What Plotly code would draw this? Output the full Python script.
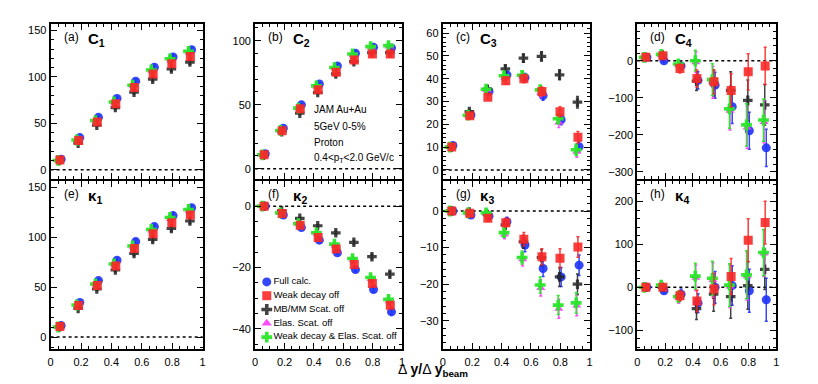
import plotly.graph_objects as go

# delta-y / delta-y_beam bin centres
X_BINS = [0.061, 0.184, 0.307, 0.429, 0.552, 0.675, 0.798, 0.920]

# (a) C1  /  (e) kappa1
C1_FULL = [11.4, 34.6, 56.4, 76.8, 95.4, 110.4, 121.4, 129.3]
C1_WEAK = [10.4, 31.4, 51.4, 71.0, 88.6, 103.2, 114.3, 122.0]
C1_MBMM = [10.0, 28.5, 48.0, 67.0, 83.5, 97.5, 108.5, 116.0]
C1_ELAS = [10.2, 32.0, 52.5, 72.5, 90.5, 106.5, 118.0, 126.0]
C1_WDEL = [10.0, 32.0, 53.0, 73.0, 91.0, 107.5, 119.5, 127.5]
C1_ERR = [0.5, 1.0, 1.5, 1.8, 2.0, 2.2, 2.5, 2.5]

K1_FULL, K1_WEAK, K1_MBMM, K1_ELAS, K1_WDEL = C1_FULL, C1_WEAK, C1_MBMM, C1_ELAS, C1_WDEL
K1_ERR = C1_ERR

# (b) C2
C2_FULL = [11.7, 31.7, 49.9, 66.2, 80.3, 90.1, 94.8, 94.3]
C2_WEAK = [10.9, 29.6, 46.8, 61.6, 75.3, 84.9, 89.6, 89.6]
C2_MBMM = [10.5, 29.0, 43.4, 59.5, 74.0, 83.6, 90.6, 90.6]
C2_ELAS = [10.8, 29.8, 47.0, 64.0, 78.5, 89.0, 94.5, 95.5]
C2_WDEL = [10.9, 29.9, 47.3, 64.7, 79.0, 89.6, 95.3, 96.1]
C2_ERR = [0.4, 0.8, 1.0, 1.2, 1.4, 1.6, 1.8, 2.0]

# (c) C3
C3_FULL = [10.7, 24.1, 34.4, 41.7, 40.5, 32.6, 22.0, 10.2]
C3_WEAK = [10.0, 23.7, 31.9, 39.1, 40.0, 34.4, 25.5, 14.3]
C3_MBMM = [10.0, 25.6, 35.4, 44.3, 49.0, 49.8, 41.7, 29.7]
C3_ELAS = [10.0, 23.8, 35.0, 40.5, 41.0, 34.0, 20.8, 8.0]
C3_WDEL = [10.0, 24.0, 35.4, 41.3, 41.5, 35.1, 22.4, 8.8]
C3_ERR = [0.5, 0.8, 1.0, 1.5, 1.8, 2.0, 2.2, 2.5]

# (d) C4
C4_FULL = [9, 0, -14, -53, -66, -124, -189, -235]
C4_WEAK = [9, 13.5, -21, -48, -57, -80, -30, -14]
C4_MBMM = [9, 15, -12, -55, -60, -80, -107, -119]
C4_ELAS = [9, 15, -12, -4, -58, -135, -180, -165]
C4_WDEL = [9, 17, -9, 0, -51, -130, -173, -160]
C4_FULL_ERR = [3, 5, 10, 23, 35, 45, 50, 50]
C4_WEAK_ERR = [3, 6, 12, 23, 32, 45, 49, 50]
C4_MBMM_ERR = [3, 6, 12, 25, 35, 50, 55, 55]
C4_ELAS_ERR = [3, 6, 12, 28, 43, 52, 57, 57]
C4_WDEL_ERR = [3, 6, 12, 28, 43, 52, 57, 57]

# (f) kappa2
K2_FULL = [0, -2.9, -7.0, -11.1, -15.2, -20.7, -27.2, -34.5]
K2_WEAK = [0, -2.4, -6.2, -10.2, -14.0, -19.0, -25.2, -32.3]
K2_MBMM = [0, -1.5, -4.0, -6.4, -8.7, -11.8, -16.5, -22.2]
K2_ELAS = [0, -2.2, -5.8, -9.0, -12.8, -17.5, -23.8, -31.0]
K2_WDEL = [0, -2.2, -5.7, -8.7, -12.4, -17.1, -23.3, -30.4]
K2_ERR = [0.1, 0.2, 0.3, 0.4, 0.5, 0.6, 0.7, 0.8]

# (g) kappa3
K3_FULL = [0, -1.1, -1.4, -2.9, -9.3, -15.7, -18.0, -14.8]
K3_WEAK = [0, -0.6, -2.0, -3.2, -7.7, -12.5, -12.9, -9.8]
K3_MBMM = [0, -0.3, -1.0, -3.8, -8.4, -12.7, -18.0, -20.0]
K3_ELAS = [0, -0.6, -0.7, -6.4, -13.2, -21.0, -26.7, -25.8]
K3_WDEL = [0, -0.5, -0.5, -5.9, -12.7, -20.2, -25.7, -25.1]
K3_ERR = [0.2, 0.5, 0.8, 1.2, 1.8, 2.2, 2.6, 2.8]

# (h) kappa4
K4_FULL = [0, -8, -16, -37, 0, 4, -8, -29]
K4_WEAK = [0, 0, -19.5, -32, -4, 25, 110, 151]
K4_MBMM = [0, 0, -20, -50, -16, -22, 4, 42]
K4_ELAS = [0, 4, -24, 22, 17, 2, 26, 79]
K4_WDEL = [0, 5, -22, 26, 21, 5, 29, 81]
K4_FULL_ERR = [2, 4, 12, 22, 37, 46, 50, 50]
K4_WEAK_ERR = [2, 4, 12, 25, 37, 42, 50, 50]
K4_MBMM_ERR = [2, 4, 12, 25, 40, 50, 55, 47]
K4_ELAS_ERR = [2, 5, 13, 30, 40, 50, 56, 54]
K4_WDEL_ERR = [2, 5, 13, 30, 40, 50, 56, 54]

SERIES_NAMES = ["Full calc.", "Weak decay off", "MB/MM Scat. off",
                "Elas. Scat. off", "Weak decay & Elas. Scat. off"]

W, H = 818, 384
FONT = "Liberation Sans, Arial, sans-serif"

# style per series: colour, symbol, marker size, horizontal dodge, draw order
STYLES = {
    "Full calc.": dict(color="rgba(30,50,250,0.9)", symbol="circle", size=9, dx=0.008, z=0),
    "MB/MM Scat. off": dict(color="rgba(35,35,35,0.85)", symbol="cross", size=8, dx=-0.003, z=1),
    "Elas. Scat. off": dict(color="rgba(250,60,250,0.9)", symbol="triangle-up", size=8, dx=-0.008, z=2),
    "Weak decay & Elas. Scat. off": dict(color="rgba(40,230,40,0.95)", symbol="cross", size=9,
                                         dx=-0.012, z=3),
    "Weak decay off": dict(color="rgba(250,40,40,0.9)", symbol="square", size=9, dx=0.0, z=4),
}

# panel pixel boxes
COLS = [(48, 201), (254, 402), (443, 591), (639, 779)]
ROWS = [(24, 179), (181, 349)]

PANELS = [
    dict(tag="(a)", sym="C<sub>1</sub>", yr=[-10, 157], dt=50, mn=10,
         vals=[C1_FULL, C1_WEAK, C1_MBMM, C1_ELAS, C1_WDEL], errs=[C1_ERR] * 5),
    dict(tag="(b)", sym="C<sub>2</sub>", yr=[-8, 113], dt=50, mn=10,
         vals=[C2_FULL, C2_WEAK, C2_MBMM, C2_ELAS, C2_WDEL], errs=[C2_ERR] * 5),
    dict(tag="(c)", sym="C<sub>3</sub>", yr=[-4, 64], dt=10, mn=2,
         vals=[C3_FULL, C3_WEAK, C3_MBMM, C3_ELAS, C3_WDEL], errs=[C3_ERR] * 5),
    dict(tag="(d)", sym="C<sub>4</sub>", yr=[-319, 99], dt=100, mn=20,
         vals=[C4_FULL, C4_WEAK, C4_MBMM, C4_ELAS, C4_WDEL],
         errs=[C4_FULL_ERR, C4_WEAK_ERR, C4_MBMM_ERR, C4_ELAS_ERR, C4_WDEL_ERR]),
    dict(tag="(e)", sym="κ<sub>1</sub>", yr=[-12, 156], dt=50, mn=10,
         vals=[K1_FULL, K1_WEAK, K1_MBMM, K1_ELAS, K1_WDEL], errs=[K1_ERR] * 5),
    dict(tag="(f)", sym="κ<sub>2</sub>", yr=[-46.6, 8.2], dt=20, mn=5,
         vals=[K2_FULL, K2_WEAK, K2_MBMM, K2_ELAS, K2_WDEL], errs=[K2_ERR] * 5),
    dict(tag="(g)", sym="κ<sub>3</sub>", yr=[-37.7, 8.2], dt=10, mn=2,
         vals=[K3_FULL, K3_WEAK, K3_MBMM, K3_ELAS, K3_WDEL], errs=[K3_ERR] * 5),
    dict(tag="(h)", sym="κ<sub>4</sub>", yr=[-144, 248], dt=100, mn=20,
         vals=[K4_FULL, K4_WEAK, K4_MBMM, K4_ELAS, K4_WDEL],
         errs=[K4_FULL_ERR, K4_WEAK_ERR, K4_MBMM_ERR, K4_ELAS_ERR, K4_WDEL_ERR]),
]


def px_x(p):
    return p / W


def px_y(p):
    return 1 - p / H


fig = go.Figure()
layout = {}
annotations = []
shapes = []

for i, panel in enumerate(PANELS):
    n = i + 1
    row, col = divmod(i, 4)
    x0, x1 = COLS[col]
    top, bot = ROWS[row]
    xa = "xaxis" if n == 1 else f"xaxis{n}"
    ya = "yaxis" if n == 1 else f"yaxis{n}"
    xr = "x" if n == 1 else f"x{n}"
    yr = "y" if n == 1 else f"y{n}"

    axis_common = dict(showline=True, linewidth=2, linecolor="black", mirror="allticks",
                       ticks="inside", ticklen=6, tickwidth=1, tickcolor="black",
                       showgrid=False, zeroline=False,
                       tickfont=dict(family=FONT, size=11, color="black"))
    layout[xa] = dict(axis_common, domain=[px_x(x0), px_x(x1)], anchor=yr, range=[0, 1],
                      dtick=0.2, tick0=0, showticklabels=(row == 1), ticklabelstandoff=2,
                      minor=dict(ticks="inside", ticklen=3, dtick=0.05, tickcolor="black"))
    layout[ya] = dict(axis_common, domain=[px_y(bot), px_y(top)], anchor=xr, range=panel["yr"],
                      dtick=panel["dt"], tick0=0,
                      minor=dict(ticks="inside", ticklen=3, dtick=panel["mn"], tickcolor="black"))

    order = sorted(range(5), key=lambda k: STYLES[SERIES_NAMES[k]]["z"])
    for k in order:
        name = SERIES_NAMES[k]
        st = STYLES[name]
        fig.add_trace(go.Scatter(
            x=[v + st["dx"] for v in X_BINS], y=panel["vals"][k],
            error_y=dict(type="data", array=panel["errs"][k], color=st["color"],
                         thickness=1.5, width=1.5),
            mode="markers", name=name, showlegend=False,
            marker=dict(symbol=st["symbol"], size=st["size"], color=st["color"],
                        line=dict(width=0)),
            xaxis=xr, yaxis=yr,
        ))

    shapes.append(dict(type="line", xref=f"{xr} domain", x0=0, x1=1, yref=yr, y0=0, y1=0,
                       line=dict(color="black", width=1.5, dash="dot"), layer="below"))
    annotations.append(dict(text=panel["tag"], xref="paper", yref="paper",
                            x=px_x(x0 + 11), y=px_y(top + 13), xanchor="left", yanchor="middle",
                            showarrow=False, font=dict(family=FONT, size=12, color="black")))
    annotations.append(dict(text="<b>" + panel["sym"] + "</b>", xref="paper", yref="paper",
                            x=px_x(x0 + 36), y=px_y(top + 15), xanchor="left", yanchor="middle",
                            showarrow=False, font=dict(family=FONT, size=15, color="black")))

# legend drawn as a key on its own hidden, transparent axes inside panel (f)
fig.add_trace(go.Scatter(
    x=[0] * len(SERIES_NAMES), y=SERIES_NAMES, mode="markers+text",
    text=SERIES_NAMES, textposition="middle right",
    textfont=dict(family=FONT, size=9.6, color="black"),
    marker=dict(symbol=[STYLES[s]["symbol"] for s in SERIES_NAMES], size=9,
                color=[STYLES[s]["color"] for s in SERIES_NAMES], line=dict(width=0)),
    cliponaxis=False, showlegend=False, hoverinfo="skip", xaxis="x9", yaxis="y9",
))
layout["xaxis9"] = dict(domain=[px_x(259), px_x(400)], range=[-0.05, 1], visible=False,
                        anchor="y9")
layout["yaxis9"] = dict(domain=[px_y(344), px_y(275)], type="category", range=[4.5, -0.5],
                        visible=False, anchor="x9")

# info text in panel (b)
for txt, yp in [("JAM Au+Au", 109), ("5GeV 0-5%", 126), ("Proton", 142),
                ("0.4&lt;p<sub>T</sub>&lt;2.0 GeV/c", 158)]:
    annotations.append(dict(text=txt, xref="paper", yref="paper", x=px_x(311), y=px_y(yp),
                            xanchor="left", yanchor="middle", showarrow=False,
                            font=dict(family=FONT, size=10, color="black")))

annotations.append(dict(text="Δ <b>y/</b>Δ <b>y<sub>beam</sub></b>", xref="paper", yref="paper",
                        x=px_x(396), y=px_y(359), xanchor="left", yanchor="top",
                        showarrow=False, font=dict(family=FONT, size=14, color="black")))

fig.update_layout(
    **layout,
    width=W, height=H,
    margin=dict(l=0, r=0, t=0, b=0),
    paper_bgcolor="white", plot_bgcolor="rgba(0,0,0,0)",
    font=dict(family=FONT, size=11, color="black"),
    annotations=annotations, shapes=shapes,
    showlegend=False,
)

fig.write_html("out.html", config={"displayModeBar": False},
               post_script="document.body.style.margin='0px';")
